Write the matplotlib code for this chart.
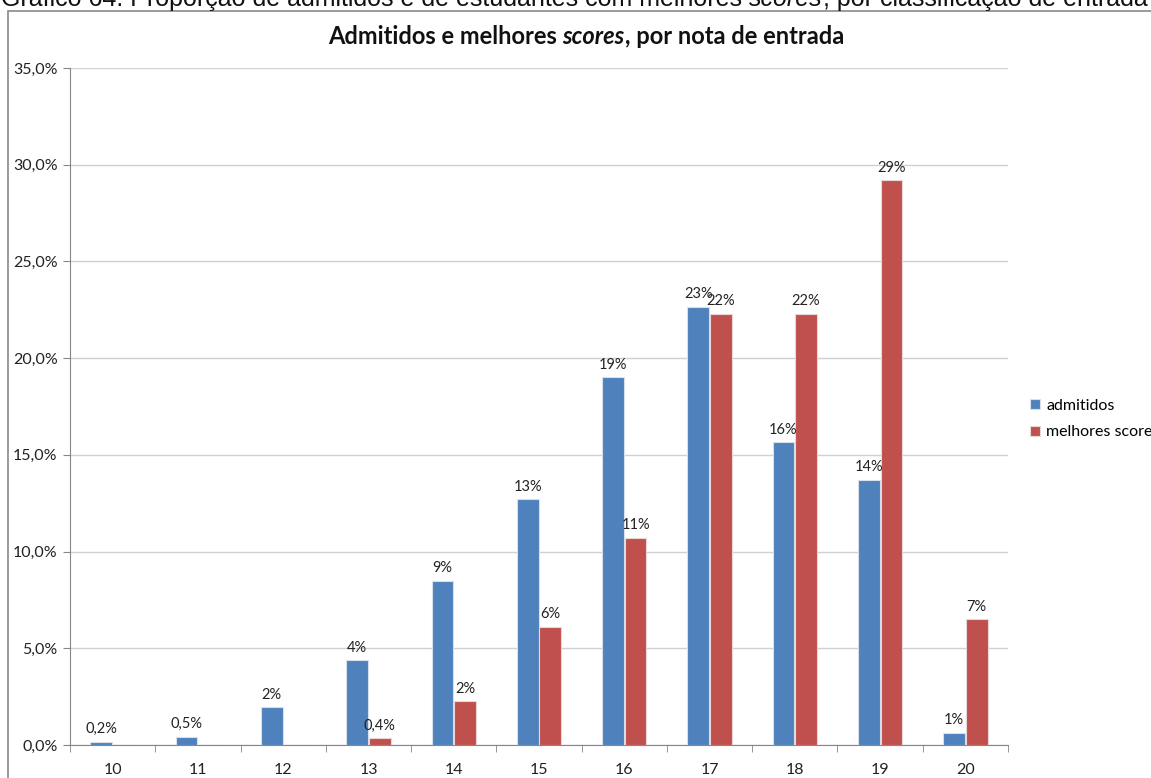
import matplotlib
matplotlib.use("Agg")
from matplotlib import pyplot as plt
from matplotlib.patches import Rectangle
import numpy as np

notas = ['10', '11', '12', '13', '14', '15', '16', '17', '18', '19', '20']
admitidos = [0.16, 0.43, 1.95, 4.37, 8.5, 12.7, 19.0, 22.65, 15.65, 13.7, 0.64]
melhores = [0.0, 0.0, 0.0, 0.36, 2.27, 6.1, 10.7, 22.3, 22.3, 29.2, 6.5]
lab_adm = ['0,2%', '0,5%', '2%', '4%', '9%', '13%', '19%', '23%', '16%', '14%', '1%']
lab_mel = ['', '', '', '0,4%', '2%', '6%', '11%', '22%', '22%', '29%', '7%']
yticks = [0, 5, 10, 15, 20, 25, 30, 35]

blue = '#4F81BD'
red = '#C0504D'
font = 'Lato'

fig = plt.figure(figsize=(11.51, 7.78), dpi=100)

# chart frame (cut at the right and bottom like the screenshot)
fig.patches.append(Rectangle((8 / 1151, -0.1), 1.2, 1 - 11 / 778 + 0.1,
                             transform=fig.transFigure, fill=False,
                             edgecolor='#8A8A8A', linewidth=1.2))

ax = fig.add_axes([70 / 1151, 1 - 745 / 778, 938 / 1151, 677 / 778])

x = np.arange(len(notas))
w = 0.255
b1 = ax.bar(x - w / 2 - 0.005, admitidos, w, color=blue, edgecolor='#D8E0EC', linewidth=0.8, zorder=3)
b2 = ax.bar(x + w / 2 + 0.005, melhores, w, color=red, edgecolor='#EAD6D6', linewidth=0.8, zorder=3)

for rect, lab in zip(b1, lab_adm):
    ax.annotate(lab, (rect.get_x() + rect.get_width() / 2, rect.get_height()),
                xytext=(0, 4), textcoords='offset points', ha='center', va='bottom',
                fontsize=10.5, family=font, color='#222222')
for rect, lab in zip(b2, lab_mel):
    if lab:
        ax.annotate(lab, (rect.get_x() + rect.get_width() / 2, rect.get_height()),
                    xytext=(0, 4), textcoords='offset points', ha='center', va='bottom',
                    fontsize=10.5, family=font, color='#222222')

ax.set_xlim(-0.5, len(notas) - 0.5)
ax.set_ylim(0, 35)
ax.set_yticks(yticks)
ax.yaxis.set_major_formatter(matplotlib.ticker.FuncFormatter(lambda v, p: ('%.1f%%' % v).replace('.', ',')))
ax.set_xticks(x)
ax.set_xticklabels(notas)
ax.set_xticks(np.arange(-0.5, len(notas)), minor=True)
ax.tick_params(axis='x', which='major', length=0, pad=13)
ax.tick_params(axis='x', which='minor', length=5, color='#868686', direction='out')
ax.tick_params(axis='y', length=5, color='#868686', direction='out', pad=4)
for t in ax.get_xticklabels() + ax.get_yticklabels():
    t.set_family(font)
    t.set_fontsize(11.5)
    t.set_color('#222222')

ax.grid(axis='y', color='#D0D0D0', linewidth=1, zorder=0)
ax.set_axisbelow(True)
for s in ['top', 'right']:
    ax.spines[s].set_visible(False)
for s in ['left', 'bottom']:
    ax.spines[s].set_color('#868686')

ax.legend([b1, b2], ['admitidos', 'melhores scores'], loc='center left',
          bbox_to_anchor=(1016 / 1151, 1 - 419 / 778), bbox_transform=fig.transFigure,
          frameon=False, handlelength=0.6, handleheight=0.6, handletextpad=0.4,
          labelspacing=0.8, prop={'family': font, 'size': 11.5})


def pieces(parts, xc, y, size, family, weight='normal', ha='center'):
    # draw text made of several styled parts side by side
    fig.canvas.draw()
    r = fig.canvas.get_renderer()
    objs = []
    for txt, style in parts:
        objs.append(fig.text(0, y, txt, fontsize=size, family=family, weight=weight,
                             style=style, va='baseline', color='#111111'))
    widths = [o.get_window_extent(r).width for o in objs]
    total = sum(widths)
    if ha == 'center':
        start = xc * 1151 - total / 2
    else:
        start = xc * 1151
    for o, wd in zip(objs, widths):
        o.set_x(start / 1151)
        start += wd


pieces([('Admitidos e melhores ', 'normal'), ('scores', 'italic'),
        (', por nota de entrada', 'normal')],
       586 / 1151, 1 - 44 / 778, 17, font, weight='bold')
pieces([('Gráfico 64: Proporção de admitidos e de estudantes com melhores ', 'normal'),
        ('scores', 'italic'), (', por classificação de entrada', 'normal')],
       1 / 1151, 1 - 6 / 778, 18, 'Liberation Sans', ha='left')

fig.savefig('out.png', dpi=100)
